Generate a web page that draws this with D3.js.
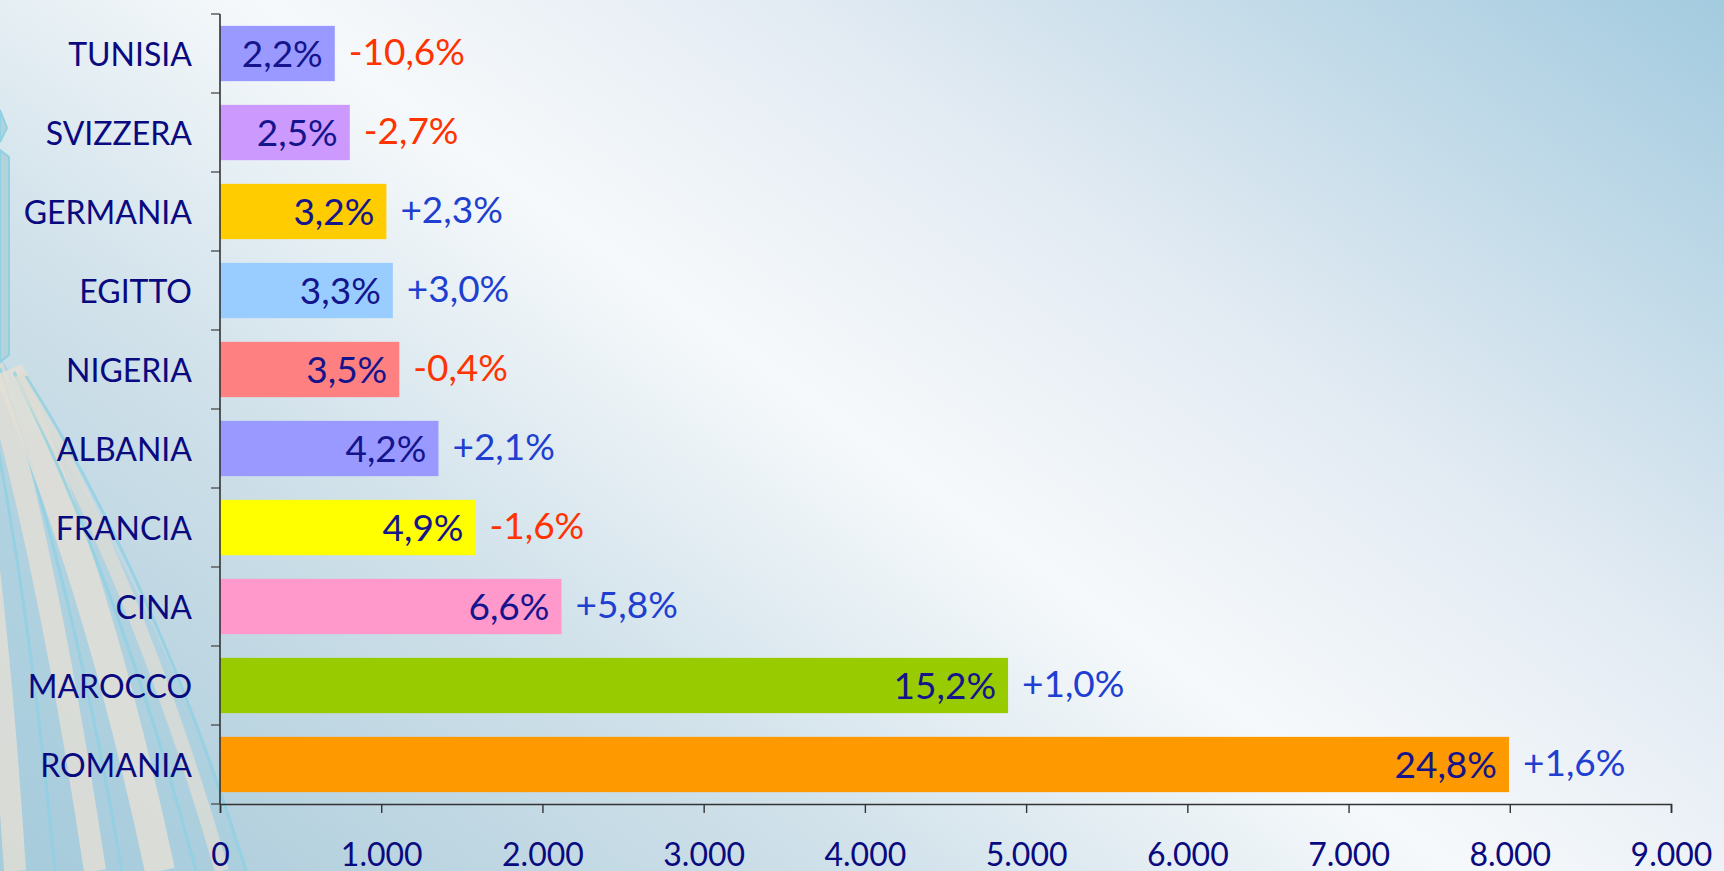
<!DOCTYPE html>
<html>
<head>
<meta charset="utf-8">
<script src="https://cdn.jsdelivr.net/npm/d3@7"></script>
<style>
  html, body { margin: 0; padding: 0; overflow: hidden; }
  svg { display: block; font-family: "Lato", "Open Sans", sans-serif; }
</style>
</head>
<body>
<div id="chart"></div>
<script>
var svgWidth = 1724;
var svgHeight = 871;

// data (top to bottom)
var countries = ["TUNISIA", "SVIZZERA", "GERMANIA", "EGITTO", "NIGERIA", "ALBANIA", "FRANCIA", "CINA", "MAROCCO", "ROMANIA"];
var residents = [712, 805, 1032, 1072, 1112, 1355, 1585, 2118, 4888, 7995];
var shares = ["2,2%", "2,5%", "3,2%", "3,3%", "3,5%", "4,2%", "4,9%", "6,6%", "15,2%", "24,8%"];
var changes = ["-10,6%", "-2,7%", "+2,3%", "+3,0%", "-0,4%", "+2,1%", "-1,6%", "+5,8%", "+1,0%", "+1,6%"];
var barColors = ["#9999ff", "#cc99ff", "#ffcc00", "#99ccff", "#ff8080", "#9999ff", "#ffff00", "#ff99cc", "#99cc00", "#ff9900"];
var xTicks = [0, 1000, 2000, 3000, 4000, 5000, 6000, 7000, 8000, 9000];

var margin = { top: 14, right: 53, bottom: 67, left: 220 };

var itLocale = d3.formatLocale({ decimal: ",", thousands: ".", grouping: [3], currency: ["", " €"] });
var fmt = itLocale.format(",");

var svg = d3.select("#chart")
  .append("svg")
  .attr("width", svgWidth)
  .attr("height", svgHeight);

// background gradient
var defs = svg.append("defs");
var bg = defs.append("linearGradient")
  .attr("id", "bg")
  .attr("gradientUnits", "userSpaceOnUse")
  .attr("x1", 380).attr("y1", 1150)
  .attr("x2", 1390).attr("y2", -240);
[[0, "#a7c9d9"], [0.3, "#d0e1ea"], [0.5, "#f6f9fb"], [0.68, "#e3ebf3"], [1, "#a3cbdf"]]
  .forEach(function(s) {
    bg.append("stop").attr("offset", s[0]).attr("stop-color", s[1]);
  });

svg.append("rect")
  .attr("width", svgWidth)
  .attr("height", svgHeight)
  .attr("fill", "url(#bg)");

// left side decoration (light rays)
var deco = svg.append("g");
deco.append("path")
  .attr("d", "M-5,350 Q150,570 248,871 L0,871 Z")
  .attr("fill", "#a6cedf")
  .attr("opacity", 0.55);
var rays = [
  { x0: -40, y0: 370, cx: -5, cy: 560, x1: 15, w: 22, c: "#e4dfd5" },
  { x0: -20, y0: 362, cx: 25, cy: 560, x1: 55, w: 3, c: "#8fd1e2" },
  { x0: -8, y0: 366, cx: 50, cy: 570, x1: 95, w: 22, c: "#e4dfd5" },
  { x0: 0, y0: 368, cx: 72, cy: 578, x1: 122, w: 3, c: "#8fd1e2" },
  { x0: 8, y0: 370, cx: 98, cy: 580, x1: 160, w: 30, c: "#e6e0d6" },
  { x0: 14, y0: 372, cx: 120, cy: 585, x1: 196, w: 3, c: "#8fd1e2" },
  { x0: 20, y0: 374, cx: 140, cy: 588, x1: 222, w: 14, c: "#dcdcd4" },
  { x0: 26, y0: 376, cx: 160, cy: 590, x1: 246, w: 3, c: "#8fd1e2" }
];
rays.forEach(function(r) {
  deco.append("path")
    .attr("d", "M" + r.x0 + "," + r.y0 + " Q" + r.cx + "," + r.cy + " " + r.x1 + "," + svgHeight)
    .attr("fill", "none")
    .attr("stroke", r.c)
    .attr("stroke-width", r.w)
    .attr("opacity", 0.8);
});
deco.append("path")
  .attr("d", "M0,150 L9,157 L9,355 L0,362 Z")
  .attr("fill", "#b3d2da")
  .attr("stroke", "#8fd1e2")
  .attr("stroke-width", 2);
deco.append("path")
  .attr("d", "M0,110 L7,128 L0,142 Z")
  .attr("fill", "#b3d2da")
  .attr("stroke", "#8fd1e2")
  .attr("stroke-width", 2);

// scales
var xScale = d3.scaleLinear()
  .domain([0, 9000])
  .range([margin.left, svgWidth - margin.right]);

var yScale = d3.scaleBand()
  .domain(countries)
  .range([margin.top, svgHeight - margin.bottom])
  .paddingInner(0.3)
  .paddingOuter(0.15);

// bars
var chartGroup = svg.append("g");
chartGroup.selectAll("rect.bar")
  .data(countries)
  .enter()
  .append("rect")
  .attr("class", "bar")
  .attr("x", xScale(0))
  .attr("y", d => yScale(d))
  .attr("width", (d, i) => xScale(residents[i]) - xScale(0))
  .attr("height", yScale.bandwidth())
  .attr("fill", (d, i) => barColors[i]);

// share labels inside bars
chartGroup.selectAll("text.share")
  .data(countries)
  .enter()
  .append("text")
  .attr("class", "share")
  .attr("x", (d, i) => xScale(residents[i]) - 12)
  .attr("y", d => yScale(d) + yScale.bandwidth() / 2 + 13)
  .attr("text-anchor", "end")
  .attr("font-size", 37)
  .attr("fill", "#14148c")
  .text((d, i) => shares[i]);

// change labels beside bars
chartGroup.selectAll("text.change")
  .data(countries)
  .enter()
  .append("text")
  .attr("class", "change")
  .attr("x", (d, i) => xScale(residents[i]) + 14)
  .attr("y", d => yScale(d) + yScale.bandwidth() / 2 + 11)
  .attr("font-size", 37)
  .attr("fill", (d, i) => changes[i][0] === "-" ? "#ff3300" : "#1f3fd0")
  .text((d, i) => changes[i]);

// x axis
var bottomAxis = d3.axisBottom(xScale)
  .tickValues(xTicks)
  .tickSize(9)
  .tickPadding(30)
  .tickFormat(d => fmt(d));

var xAxis = svg.append("g")
  .attr("transform", `translate(0, ${svgHeight - margin.bottom})`)
  .call(bottomAxis);
xAxis.select(".domain").attr("stroke", "#333").attr("stroke-width", 1.6);
xAxis.selectAll(".tick line").attr("stroke", "#333").attr("stroke-width", 1.4);
xAxis.selectAll(".tick text")
  .attr("font-size", 32)
  .attr("font-family", "Lato, sans-serif")
  .attr("fill", "#0a0a80");

// y axis: labels only, ticks drawn at category boundaries
var leftAxis = d3.axisLeft(yScale)
  .tickSize(0)
  .tickPadding(28);

var yAxis = svg.append("g")
  .attr("transform", `translate(${margin.left}, 0)`)
  .call(leftAxis);
yAxis.select(".domain").remove();
yAxis.selectAll(".tick text")
  .attr("font-size", 32)
  .attr("font-family", "Lato, sans-serif")
  .attr("fill", "#0a0a80")
  .attr("dy", "0.4em");

var bounds = d3.range(countries.length + 1).map(k => yScale.range()[0] + k * yScale.step());
svg.append("g").selectAll("line")
  .data(bounds)
  .enter()
  .append("line")
  .attr("x1", margin.left - 9)
  .attr("x2", margin.left)
  .attr("y1", d => d)
  .attr("y2", d => d)
  .attr("stroke", "#555")
  .attr("stroke-width", 1.4);

svg.append("line")
  .attr("x1", margin.left)
  .attr("x2", margin.left)
  .attr("y1", yScale.range()[0])
  .attr("y2", yScale.range()[1])
  .attr("stroke", "#333")
  .attr("stroke-width", 1.6);
</script>
</body>
</html>
